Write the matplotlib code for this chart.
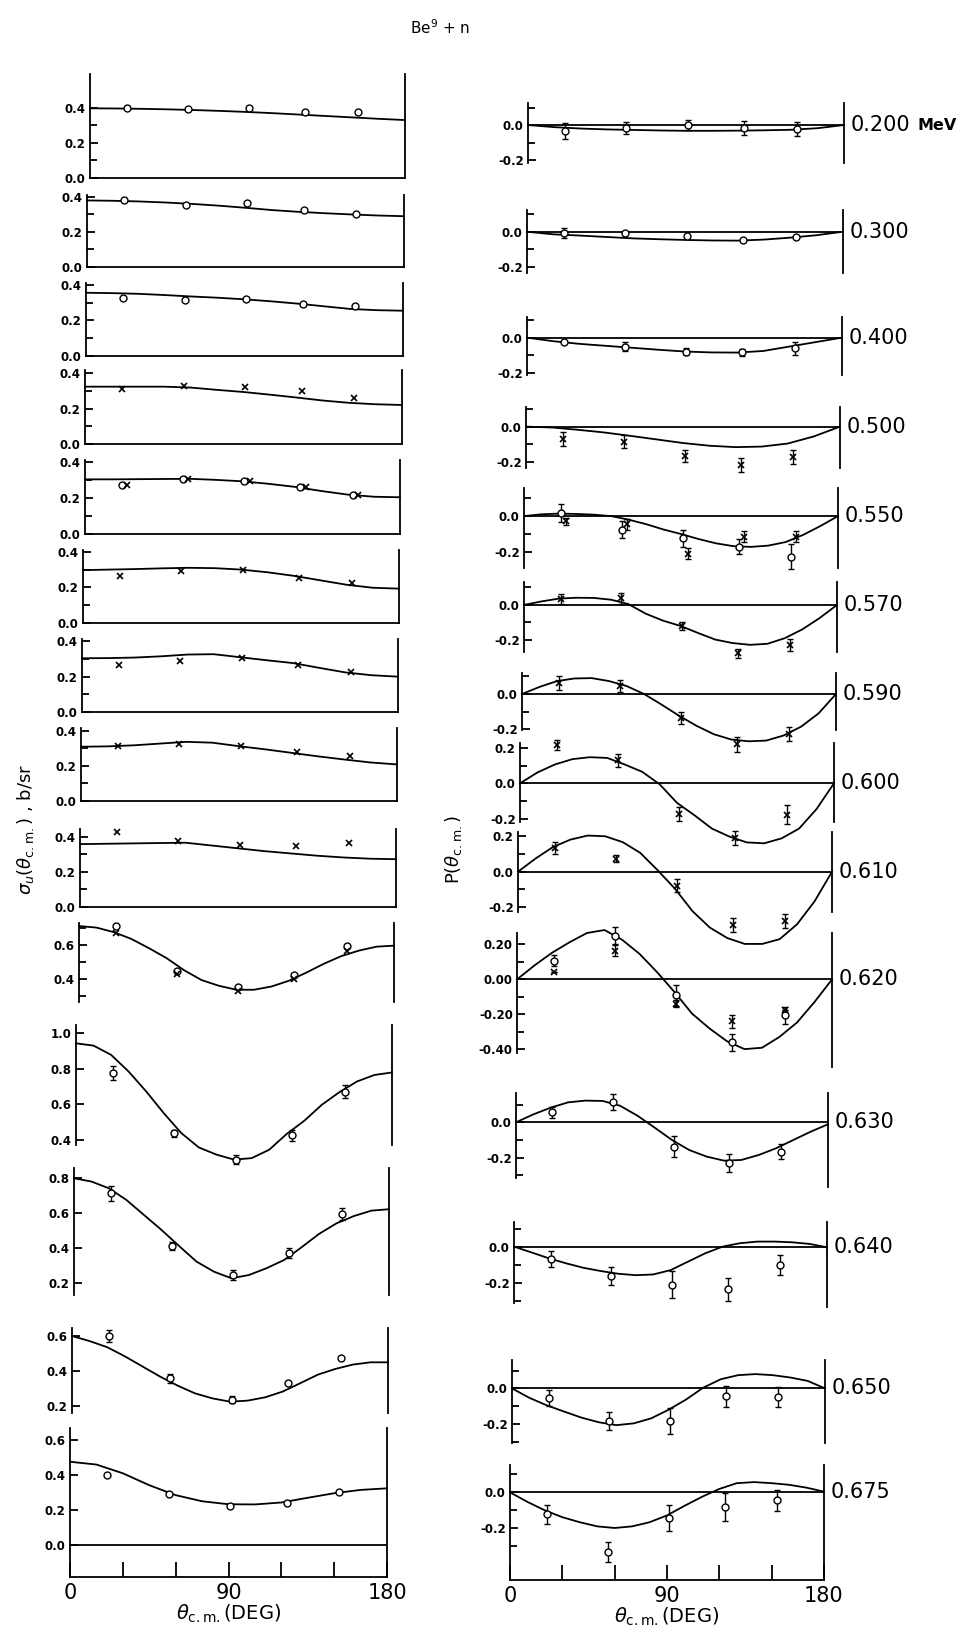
import matplotlib
matplotlib.use("Agg")
import matplotlib.pyplot as plt
from matplotlib.ticker import FixedLocator, FixedFormatter

# ---------------- data ----------------
ang15 = [0, 15, 30, 45, 60, 75, 90, 105, 120, 135, 150, 165, 180]
ang10 = [0, 10, 20, 30, 40, 50, 60, 70, 80, 90, 100, 110, 120, 130, 140, 150, 160, 170, 180]
pt_ang = [21, 56, 91, 123, 153]
pt_ang_x = [24, 59, 94, 126, 156]   # crosses drawn slightly right of circles

energies = ["0.200", "0.300", "0.400", "0.500", "0.550", "0.570", "0.590",
            "0.600", "0.610", "0.620", "0.630", "0.640", "0.650", "0.675"]

# cross sections sigma_u (b/sr): fitted curves
sig_c_200 = [0.398, 0.397, 0.395, 0.392, 0.388, 0.383, 0.377, 0.370, 0.362, 0.354, 0.346, 0.338, 0.331]
sig_c_300 = [0.380, 0.378, 0.374, 0.368, 0.360, 0.350, 0.338, 0.325, 0.315, 0.307, 0.300, 0.294, 0.290]
sig_c_400 = [0.356, 0.354, 0.350, 0.343, 0.335, 0.328, 0.319, 0.308, 0.295, 0.280, 0.265, 0.258, 0.255]
sig_c_500 = [0.323, 0.323, 0.323, 0.323, 0.318, 0.305, 0.293, 0.278, 0.262, 0.245, 0.232, 0.224, 0.220]
sig_c_550 = [0.305, 0.305, 0.306, 0.307, 0.308, 0.302, 0.294, 0.280, 0.263, 0.240, 0.220, 0.208, 0.205]
sig_c_570 = [0.297, 0.300, 0.303, 0.307, 0.310, 0.308, 0.300, 0.285, 0.265, 0.240, 0.215, 0.198, 0.193]
sig_c_590 = [0.304, 0.305, 0.308, 0.315, 0.325, 0.327, 0.310, 0.293, 0.277, 0.250, 0.224, 0.208, 0.200]
sig_c_600 = [0.310, 0.312, 0.318, 0.328, 0.338, 0.333, 0.313, 0.295, 0.275, 0.255, 0.237, 0.220, 0.209]
sig_c_610 = [0.358, 0.360, 0.362, 0.364, 0.366, 0.350, 0.334, 0.318, 0.305, 0.292, 0.282, 0.275, 0.272]
sig_c_620 = [0.711, 0.702, 0.675, 0.635, 0.581, 0.523, 0.452, 0.394, 0.360, 0.337, 0.337, 0.356,
             0.390, 0.438, 0.490, 0.535, 0.567, 0.590, 0.596]
sig_c_630 = [0.944, 0.931, 0.879, 0.785, 0.673, 0.551, 0.439, 0.358, 0.318, 0.290, 0.298, 0.345,
             0.434, 0.508, 0.598, 0.669, 0.729, 0.766, 0.780]
sig_c_640 = [0.800, 0.781, 0.742, 0.675, 0.589, 0.503, 0.411, 0.321, 0.263, 0.225, 0.244, 0.283,
             0.330, 0.403, 0.480, 0.541, 0.583, 0.614, 0.622]
sig_c_650 = [0.600, 0.571, 0.536, 0.484, 0.426, 0.368, 0.316, 0.271, 0.242, 0.223, 0.229, 0.248,
             0.281, 0.329, 0.378, 0.411, 0.436, 0.449, 0.449]
sig_c_675 = [0.476, 0.460, 0.410, 0.342, 0.285, 0.250, 0.233, 0.232, 0.243, 0.270, 0.296, 0.315, 0.324]

# cross sections: measured points (o = circles, x = crosses), errors
sig_o_200 = [0.400, 0.393, 0.400, 0.375, 0.377]
sig_o_300 = [0.381, 0.353, 0.366, 0.326, 0.305]
sig_o_400 = [0.328, 0.317, 0.319, 0.293, 0.283]
sig_x_500 = [0.310, 0.328, 0.324, 0.296, 0.259]
sig_o_550 = [0.276, 0.305, 0.294, 0.263, 0.220]
sig_x_550 = [0.276, 0.305, 0.294, 0.260, 0.215]
sig_x_570 = [0.263, 0.293, 0.297, 0.254, 0.222]
sig_x_590 = [0.267, 0.290, 0.308, 0.267, 0.226]
sig_x_600 = [0.314, 0.328, 0.313, 0.280, 0.255]
sig_x_610 = [0.429, 0.377, 0.353, 0.347, 0.362]
sig_o_620 = [0.711, 0.446, 0.356, 0.423, 0.592]
sig_x_620 = [0.669, 0.427, 0.331, 0.400, 0.562]
sig_o_630 = [0.775, 0.438, 0.288, 0.427, 0.672]
sig_e_630 = [0.040, 0.020, 0.025, 0.030, 0.035]
sig_o_640 = [0.714, 0.411, 0.244, 0.373, 0.593]
sig_e_640 = [0.042, 0.024, 0.027, 0.029, 0.035]
sig_o_650 = [0.600, 0.358, 0.233, 0.329, 0.474]
sig_e_650 = [0.036, 0.025, 0.020, 0.000, 0.000]
sig_o_675 = [0.400, 0.290, 0.223, 0.242, 0.303]

# polarization P: fitted curves
pol_c_200 = [0, -0.012, -0.020, -0.025, -0.028, -0.031, -0.033, -0.033, -0.032, -0.030, -0.027, -0.018, 0]
pol_c_300 = [0, -0.015, -0.022, -0.030, -0.038, -0.043, -0.047, -0.050, -0.051, -0.045, -0.034, -0.020, 0]
pol_c_400 = [0, -0.020, -0.035, -0.046, -0.057, -0.068, -0.078, -0.083, -0.084, -0.075, -0.050, -0.025, 0]
pol_c_500 = [0, -0.005, -0.018, -0.033, -0.052, -0.072, -0.092, -0.107, -0.115, -0.112, -0.095, -0.055, 0]
pol_c_550 = [0, 0.010, 0.014, 0.012, 0.008, 0.000, -0.020, -0.045, -0.075, -0.100, -0.128, -0.152,
             -0.168, -0.172, -0.165, -0.145, -0.105, -0.055, 0]
pol_c_570 = [0, 0.020, 0.036, 0.041, 0.040, 0.030, 0.005, -0.050, -0.090, -0.120, -0.160, -0.198,
             -0.218, -0.228, -0.222, -0.190, -0.140, -0.075, 0]
pol_c_590 = [0, 0.040, 0.073, 0.088, 0.090, 0.073, 0.045, 0.000, -0.060, -0.123, -0.180, -0.228,
             -0.258, -0.268, -0.264, -0.235, -0.185, -0.110, 0]
pol_c_600 = [0, 0.061, 0.106, 0.136, 0.147, 0.143, 0.106, 0.065, -0.005, -0.110, -0.180, -0.255,
             -0.300, -0.333, -0.338, -0.310, -0.255, -0.145, 0]
pol_c_610 = [0, 0.074, 0.139, 0.181, 0.204, 0.200, 0.167, 0.107, 0.009, -0.096, -0.222, -0.315,
             -0.374, -0.407, -0.407, -0.380, -0.296, -0.167, 0]
pol_c_620 = [0, 0.080, 0.152, 0.212, 0.265, 0.282, 0.227, 0.146, 0.042, -0.072, -0.195, -0.280,
             -0.353, -0.398, -0.390, -0.328, -0.246, -0.129, 0]
pol_c_630 = [0, 0.045, 0.083, 0.113, 0.123, 0.121, 0.094, 0.038, -0.030, -0.100, -0.157, -0.194,
             -0.217, -0.213, -0.185, -0.147, -0.100, -0.053, -0.011]
pol_c_640 = [0, -0.032, -0.065, -0.093, -0.118, -0.136, -0.151, -0.159, -0.155, -0.131, -0.084,
             -0.037, 0.000, 0.019, 0.028, 0.028, 0.024, 0.015, -0.004]
pol_c_650 = [0, -0.053, -0.095, -0.130, -0.164, -0.190, -0.206, -0.196, -0.168, -0.120, -0.063,
             0.004, 0.051, 0.074, 0.080, 0.074, 0.061, 0.042, 0]
pol_c_675 = [0, -0.053, -0.100, -0.138, -0.166, -0.189, -0.198, -0.189, -0.166, -0.128, -0.075,
             -0.025, 0.019, 0.051, 0.057, 0.051, 0.042, 0.026, 0.004]

# polarization: measured points and errors
pol_o_200 = [-0.034, -0.019, 0.000, -0.019, -0.023]
pol_oe_200 = [0.043, 0.035, 0.030, 0.040, 0.040]
pol_o_300 = [-0.006, -0.010, -0.025, -0.050, -0.030]
pol_oe_300 = [0.028, 0.0, 0.0, 0.0, 0.0]
pol_o_400 = [-0.023, -0.051, -0.080, -0.083, -0.060]
pol_oe_400 = [0.0, 0.025, 0.020, 0.020, 0.035]
pol_x_500 = [-0.069, -0.084, -0.165, -0.215, -0.169]
pol_xe_500 = [0.040, 0.035, 0.035, 0.040, 0.040]
pol_o_550 = [0.015, -0.075, -0.125, -0.170, -0.228]
pol_oe_550 = [0.050, 0.050, 0.045, 0.040, 0.070]
pol_x_550 = [-0.030, -0.045, -0.210, -0.115, -0.115]
pol_xe_550 = [0.020, 0.030, 0.030, 0.030, 0.030]
pol_x_570 = [0.034, 0.038, -0.120, -0.276, -0.229]
pol_xe_570 = [0.030, 0.030, 0.025, 0.025, 0.035]
pol_x_590 = [0.060, 0.046, -0.135, -0.286, -0.225]
pol_xe_590 = [0.040, 0.035, 0.035, 0.040, 0.040]
pol_x_600 = [0.214, 0.130, -0.173, -0.307, -0.177]
pol_xe_600 = [0.028, 0.037, 0.042, 0.039, 0.052]
pol_x_610 = [0.133, 0.074, -0.078, -0.300, -0.278]
pol_xe_610 = [0.032, 0.020, 0.039, 0.040, 0.037]
pol_o_620 = [0.108, 0.250, -0.091, -0.360, -0.205]
pol_oe_620 = [0.030, 0.047, 0.059, 0.047, 0.047]
pol_x_620 = [0.042, 0.165, -0.138, -0.239, -0.176]
pol_xe_620 = [0.0, 0.033, 0.020, 0.038, 0.0]
pol_o_630 = [0.057, 0.113, -0.138, -0.228, -0.166]
pol_oe_630 = [0.030, 0.045, 0.061, 0.051, 0.044]
pol_o_640 = [-0.069, -0.163, -0.211, -0.237, -0.103]
pol_oe_640 = [0.045, 0.049, 0.073, 0.065, 0.056]
pol_o_650 = [-0.053, -0.183, -0.183, -0.044, -0.048]
pol_oe_650 = [0.045, 0.048, 0.074, 0.060, 0.058]
pol_o_675 = [-0.123, -0.332, -0.143, -0.081, -0.043]
pol_oe_675 = [0.054, 0.056, 0.072, 0.080, 0.058]

# ---------------- layout (pixels) ----------------
W, H = 968, 1636
fig = plt.figure(figsize=(W / 100, H / 100), dpi=100)
fig.patch.set_facecolor("white")

TICKFS = 8.5
LW = 1.3


def make_ax(x0, x1, ybot, ytop, ymin, ymax):
    ax = fig.add_axes([x0 / W, 1 - ybot / H, (x1 - x0) / W, (ybot - ytop) / H])
    ax.patch.set_visible(False)
    ax.set_xlim(0, 180)
    ax.set_ylim(ymin, ymax)
    ax.spines["top"].set_visible(False)
    for s in ("left", "right", "bottom"):
        ax.spines[s].set_linewidth(LW)
    ax.tick_params(axis="y", which="both", direction="in", left=True, right=False,
                   labelsize=TICKFS, pad=3, width=LW)
    ax.tick_params(axis="y", which="major", length=6)
    ax.tick_params(axis="y", which="minor", length=5)
    ax.tick_params(axis="x", which="both", bottom=False, labelbottom=False)
    return ax


def set_yticks(ax, major, labels, minor):
    ax.yaxis.set_major_locator(FixedLocator(major))
    ax.yaxis.set_major_formatter(FixedFormatter(labels))
    ax.yaxis.set_minor_locator(FixedLocator(minor))
    for lab in ax.get_yticklabels():
        lab.set_fontweight("bold")


def plot_curve(ax, vals):
    ang = ang10 if len(vals) == len(ang10) else ang15
    ax.plot(ang, vals, color="black", lw=1.3, clip_on=False, zorder=3,
            solid_joinstyle="round")


def plot_pts(ax, ang, vals, marker, errs=None):
    if marker == "o":
        kw = dict(marker="o", ms=5, mfc="white", mec="black", mew=1.0)
    else:
        kw = dict(marker="x", ms=4.5, mec="black", mew=1.2)
    if errs is not None:
        e = [v if v > 0 else 0 for v in errs]
        ax.errorbar(ang, vals, yerr=e, fmt="none", ecolor="black", elinewidth=1.0,
                    capsize=2.5, capthick=1.0, clip_on=False, zorder=4)
    ax.plot(ang, vals, ls="none", clip_on=False, zorder=5, **kw)


# ---------------- left column: cross sections ----------------
left_geom = [
    (90, 405, 178, 74, 0.0, 0.594),
    (87, 404, 267, 195, 0.0, 0.411),
    (86, 403, 356, 283, 0.0, 0.411),
    (85, 402, 444, 370, 0.0, 0.417),
    (85, 400, 534, 460, 0.0, 0.413),
    (83, 399, 623, 550, 0.0, 0.410),
    (82, 398, 712, 639, 0.0, 0.413),
    (81, 397, 801, 728, 0.0, 0.417),
    (80, 396, 907, 829, 0.0, 0.444),
    (79, 394, 1002, 923, 0.265, 0.729),
    (76, 392, 1145, 1025, 0.372, 1.047),
    (74, 389, 1295, 1168, 0.129, 0.859),
    (72, 388, 1413, 1328, 0.158, 0.646),
    (70, 387, 1577, 1428, -0.183, 0.669),
]
sig_curves = [sig_c_200, sig_c_300, sig_c_400, sig_c_500, sig_c_550, sig_c_570, sig_c_590,
              sig_c_600, sig_c_610, sig_c_620, sig_c_630, sig_c_640, sig_c_650, sig_c_675]

left_axes = []
for i, g in enumerate(left_geom):
    ax = make_ax(*g)
    left_axes.append(ax)
    plot_curve(ax, sig_curves[i])
    if i <= 8:
        set_yticks(ax, [0.0, 0.2, 0.4], ["0.0", "0.2", "0.4"], [0.1, 0.3])
    if 9 <= i <= 12:
        ax.spines["bottom"].set_visible(False)

set_yticks(left_axes[9], [0.4, 0.6], ["0.4", "0.6"], [0.3, 0.5, 0.7])
set_yticks(left_axes[10], [0.4, 0.6, 0.8, 1.0], ["0.4", "0.6", "0.8", "1.0"], [])
set_yticks(left_axes[11], [0.2, 0.4, 0.6, 0.8], ["0.2", "0.4", "0.6", "0.8"], [])
set_yticks(left_axes[12], [0.2, 0.4, 0.6], ["0.2", "0.4", "0.6"], [])
set_yticks(left_axes[13], [0.0, 0.2, 0.4, 0.6], ["0.0", "0.2", "0.4", "0.6"], [])
left_axes[13].axhline(0, color="black", lw=LW)

plot_pts(left_axes[0], pt_ang, sig_o_200, "o")
plot_pts(left_axes[1], pt_ang, sig_o_300, "o")
plot_pts(left_axes[2], pt_ang, sig_o_400, "o")
plot_pts(left_axes[3], pt_ang, sig_x_500, "x")
plot_pts(left_axes[4], pt_ang, sig_o_550, "o")
plot_pts(left_axes[4], pt_ang_x, sig_x_550, "x")
plot_pts(left_axes[5], pt_ang, sig_x_570, "x")
plot_pts(left_axes[6], pt_ang, sig_x_590, "x")
plot_pts(left_axes[7], pt_ang, sig_x_600, "x")
plot_pts(left_axes[8], pt_ang, sig_x_610, "x")
plot_pts(left_axes[9], pt_ang, sig_o_620, "o")
plot_pts(left_axes[9], pt_ang, sig_x_620, "x")
plot_pts(left_axes[10], pt_ang, sig_o_630, "o", sig_e_630)
plot_pts(left_axes[11], pt_ang, sig_o_640, "o", sig_e_640)
plot_pts(left_axes[12], pt_ang, sig_o_650, "o", sig_e_650)
plot_pts(left_axes[13], pt_ang, sig_o_675, "o")

# ---------------- right column: polarization ----------------
right_geom = [
    (528, 844, 163, 103, -0.217, 0.126),
    (527, 843, 273, 210, -0.236, 0.124),
    (527, 842, 375, 317, -0.210, 0.116),
    (526, 840, 468, 407, -0.232, 0.110),
    (524, 838, 568, 488, -0.290, 0.157),
    (524, 837, 652, 582, -0.269, 0.131),
    (522, 836, 730, 673, -0.204, 0.119),
    (520, 834, 822, 743, -0.218, 0.227),
    (518, 832, 912, 832, -0.227, 0.224),
    (517, 832, 1067, 933, -0.500, 0.265),
    (516, 828, 1187, 1093, -0.366, 0.166),
    (514, 827, 1307, 1222, -0.336, 0.137),
    (512, 825, 1443, 1360, -0.306, 0.159),
    (510, 824, 1580, 1465, -0.487, 0.152),
]
pol_curves = [pol_c_200, pol_c_300, pol_c_400, pol_c_500, pol_c_550, pol_c_570, pol_c_590,
              pol_c_600, pol_c_610, pol_c_620, pol_c_630, pol_c_640, pol_c_650, pol_c_675]

right_axes = []
for i, g in enumerate(right_geom):
    ax = make_ax(*g)
    right_axes.append(ax)
    if i != 13:
        ax.spines["bottom"].set_visible(False)
    ax.axhline(0, color="black", lw=LW)
    plot_curve(ax, pol_curves[i])
    set_yticks(ax, [-0.2, 0.0], ["-0.2", "0.0"], [-0.1, 0.1])
    ax.annotate(energies[i], xy=(180, 0), xycoords="data", xytext=(5, 0),
                textcoords="offset points", ha="left", va="center", fontsize=15)
    if i == 0:
        ax.annotate("MeV", xy=(180, 0), xycoords="data", xytext=(53, 0),
                    textcoords="offset points", ha="left", va="center",
                    fontsize=11.5, fontweight="bold")

set_yticks(right_axes[7], [-0.2, 0.0, 0.2], ["-0.2", "0.0", "0.2"], [-0.1, 0.1])
set_yticks(right_axes[8], [-0.2, 0.0, 0.2], ["-0.2", "0.0", "0.2"], [-0.1, 0.1])
set_yticks(right_axes[9], [-0.4, -0.2, 0.0, 0.2], ["-0.40", "-0.20", "0.00", "0.20"],
           [-0.3, -0.1, 0.1])
right_axes[9].spines["left"].set_bounds(-0.42, 0.265)
for k in (10, 11, 12, 13):
    set_yticks(right_axes[k], [-0.2, 0.0], ["-0.2", "0.0"], [-0.3, -0.1, 0.1])
right_axes[10].spines["left"].set_bounds(-0.315, 0.166)
right_axes[11].spines["left"].set_bounds(-0.313, 0.137)

plot_pts(right_axes[0], pt_ang, pol_o_200, "o", pol_oe_200)
plot_pts(right_axes[1], pt_ang, pol_o_300, "o", pol_oe_300)
plot_pts(right_axes[2], pt_ang, pol_o_400, "o", pol_oe_400)
plot_pts(right_axes[3], pt_ang, pol_x_500, "x", pol_xe_500)
plot_pts(right_axes[4], pt_ang, pol_o_550, "o", pol_oe_550)
plot_pts(right_axes[4], pt_ang_x, pol_x_550, "x", pol_xe_550)
plot_pts(right_axes[5], pt_ang, pol_x_570, "x", pol_xe_570)
plot_pts(right_axes[6], pt_ang, pol_x_590, "x", pol_xe_590)
plot_pts(right_axes[7], pt_ang, pol_x_600, "x", pol_xe_600)
plot_pts(right_axes[8], pt_ang, pol_x_610, "x", pol_xe_610)
plot_pts(right_axes[9], pt_ang, pol_o_620, "o", pol_oe_620)
plot_pts(right_axes[9], pt_ang, pol_x_620, "x", pol_xe_620)
plot_pts(right_axes[10], pt_ang, pol_o_630, "o", pol_oe_630)
plot_pts(right_axes[11], pt_ang, pol_o_640, "o", pol_oe_640)
plot_pts(right_axes[12], pt_ang, pol_o_650, "o", pol_oe_650)
plot_pts(right_axes[13], pt_ang, pol_o_675, "o", pol_oe_675)

# ---------------- bottom x axes ----------------
for ax in (left_axes[13], right_axes[13]):
    ax.tick_params(axis="x", which="major", bottom=True, labelbottom=True,
                   direction="in", length=11, width=LW, labelsize=15, pad=4)
    ax.set_xticks([0, 30, 60, 90, 120, 150, 180])
    ax.set_xticklabels(["0", "", "", "90", "", "", "180"])
    ax.set_xlabel(r"$\theta_{\mathrm{c.m.}}$(DEG)", fontsize=14, labelpad=0)

# ---------------- labels ----------------
fig.text(440 / W, 1 - 28 / H, r"Be$^{9}$ + n", ha="center", va="center", fontsize=11)
fig.text(25 / W, 1 - 830 / H, r"$\sigma_u(\theta_{\mathrm{c.m.}})$ , b/sr", rotation=90,
         ha="center", va="center", fontsize=13)
fig.text(453 / W, 1 - 850 / H, r"P$(\theta_{\mathrm{c.m.}})$", rotation=90,
         ha="center", va="center", fontsize=13)

fig.savefig("out.png", dpi=100)
